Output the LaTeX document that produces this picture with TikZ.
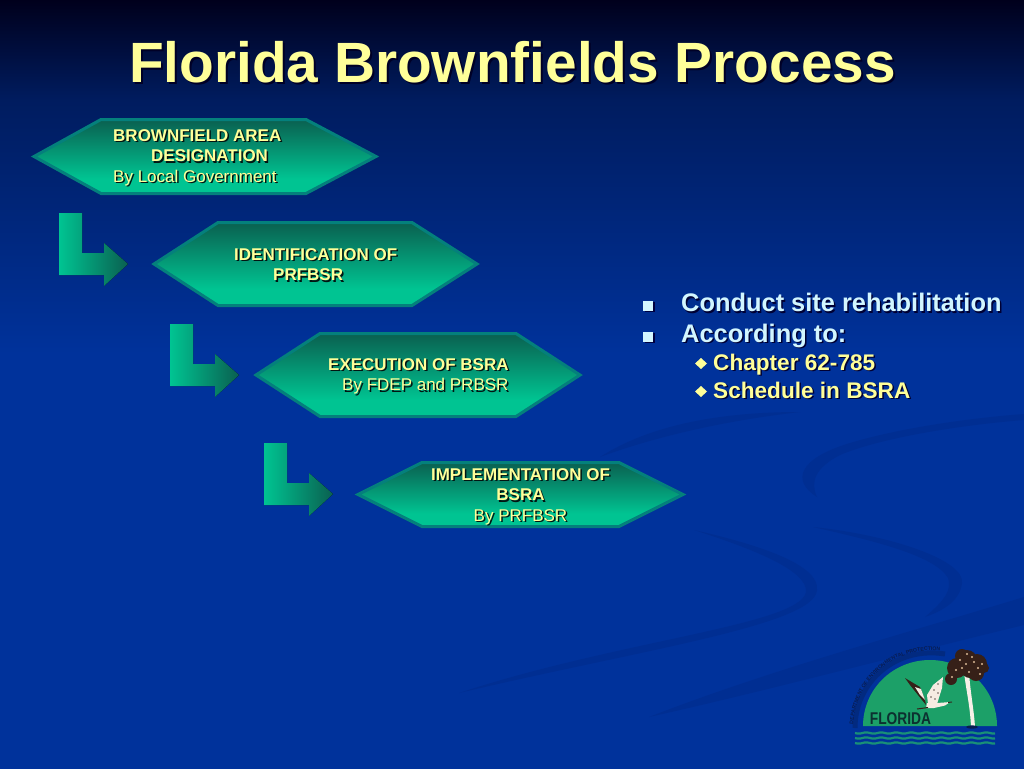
\documentclass[tikz,border=0pt]{standalone}
\usepackage{fontspec}
\setmainfont{Liberation Sans}
\usetikzlibrary{arrows.meta,calc,decorations.text,shapes.geometric}
\definecolor{bgtop}{RGB}{0,0,28}
\definecolor{bgmid}{RGB}{0,28,95}
\definecolor{bglow}{RGB}{0,50,155}
\definecolor{swoosh}{RGB}{0,46,146}
\definecolor{hexdark}{RGB}{10,96,80}
\definecolor{hexlight}{RGB}{0,196,146}
\definecolor{hexrim}{RGB}{4,128,124}
\definecolor{titleyellow}{RGB}{255,255,153}
\definecolor{bulletblue}{RGB}{210,246,255}
\definecolor{logogreen}{RGB}{28,160,104}
\definecolor{logobrown}{RGB}{54,32,24}
\definecolor{logonavy}{RGB}{8,28,80}
\definecolor{logodark}{RGB}{12,48,48}
\pgfdeclareverticalshading{slidebg}{100bp}{color(0bp)=(bglow);color(52bp)=(bglow);color(68.5bp)=(bgmid);color(75bp)=(bgtop);color(100bp)=(bgtop)}
\pgfdeclareverticalshading{hexshade}{100bp}{color(0bp)=(hexlight);color(35bp)=(hexlight);color(75bp)=(hexdark);color(100bp)=(hexdark)}
\newcommand{\slidetext}[5][1.5]{%
  \node[#2,text=#2shade] at ($(#4)+(#1,#1)$) {#5};
  \node[#2] (#3) at (#4) {#5};}
\colorlet{titletxtshade}{black!85!blue}
\colorlet{boxtxtshade}{black!78!hexdark}
\colorlet{boxmidtxtshade}{black!78!hexdark}
\colorlet{bulltxtshade}{black!80!blue}
\colorlet{subtxtshade}{black!80!blue}
\tikzset{
  titletxt/.style={anchor=base,text=titleyellow,font=\bfseries\fontsize{56.8}{60}\selectfont},
  boxtxt/.style={anchor=west,align=left,inner sep=0pt,text=titleyellow,font=\fontsize{17}{20.6}\selectfont},
  boxmidtxt/.style={align=center,inner sep=0pt,text=titleyellow,font=\fontsize{17}{20.6}\selectfont},
  bulltxt/.style={anchor=base west,inner sep=0pt,text=bulletblue,font=\bfseries\fontsize{25.4}{28}\selectfont},
  subtxt/.style={anchor=base west,inner sep=0pt,text=titleyellow,font=\bfseries\fontsize{22.6}{26}\selectfont},
  hexbox/.style={draw=hexrim,line width=3pt,line join=miter,shading=hexshade},
  elbow/.style={left color=hexlight,right color=hexdark},
  swooshfill/.style={fill=swoosh}
}
\begin{document}
\begin{tikzpicture}[x=1pt,y=-1pt]
  \useasboundingbox (0,0) rectangle (1024,768);
  \fill[shading=slidebg] (0,0) rectangle (1024,768);
  % background swooshes
  \fill[swooshfill] (600,457) .. controls (650,425) and (720,412) .. (800,412) .. controls (730,420) and (660,435) .. (600,457) -- cycle;
  \fill[swooshfill] (817,497) .. controls (790,480) and (800,458) .. (850,443) .. controls (900,428) and (970,418) .. (1024,414) -- (1024,420) .. controls (960,425) and (880,438) .. (840,455) .. controls (815,468) and (810,482) .. (817,497) -- cycle;
  \fill[swooshfill] (694,530) .. controls (760,545) and (820,565) .. (817,590) .. controls (815,625) and (640,650) .. (459,693) .. controls (620,640) and (800,625) .. (806,592) .. controls (808,570) and (750,548) .. (694,530) -- cycle;
  \fill[swooshfill] (813,527) .. controls (890,535) and (965,560) .. (962,583) .. controls (960,600) and (945,610) .. (925,617) .. controls (945,600) and (952,590) .. (948,578) .. controls (935,555) and (870,540) .. (813,527) -- cycle;
  \fill[swooshfill] (1024,597) -- (1024,625) .. controls (900,655) and (770,690) .. (649,717) .. controls (770,670) and (900,635) .. (1024,597) -- cycle;
  % title
  \slidetext[2]{titletxt}{title}{512.5,82}{Florida Brownfields Process}
  % elbow arrows
  \foreach \dx/\dy in {0/0,111/111,205/230}{
    \fill[elbow,shift={(\dx,\dy)}] (59,213) -- (82,213) -- (82,253) -- (104,253) -- (104,243) -- (128,264) -- (104,286) -- (104,275) -- (59,275) -- cycle;
  }
  % hexagons
  \path[hexbox] (34,156.5) -- (101,119.5) -- (306,119.5) -- (376,156.5) -- (306,193.5) -- (101,193.5) -- cycle;
  \path[hexbox] (154,264) -- (218,222.5) -- (412,222.5) -- (477,264) -- (412,305.5) -- (218,305.5) -- cycle;
  \path[hexbox] (256,375) -- (320,333.5) -- (516,333.5) -- (580,375) -- (516,416.5) -- (320,416.5) -- cycle;
  \path[hexbox] (358,494.5) -- (422,462.5) -- (619,462.5) -- (683,494.5) -- (619,526.5) -- (422,526.5) -- cycle;
  % box labels
  \slidetext{boxtxt}{areatxt}{113,157.5}{\textbf{BROWNFIELD AREA}\\\hspace*{38pt}\textbf{DESIGNATION}\\By Local Government}
  \slidetext{boxtxt}{identtxt}{234,264.5}{\textbf{IDENTIFICATION OF}\\\hspace*{39pt}\textbf{PRFBSR}}
  \slidetext{boxtxt}{exectxt}{328,376.5}{\textbf{EXECUTION OF BSRA}\\\hspace*{14pt}By FDEP and PRBSR}
  \slidetext{boxmidtxt}{impltxt}{520.5,496.5}{\textbf{IMPLEMENTATION OF}\\\textbf{BSRA}\\By PRFBSR}
  % bullets
  \foreach \yb in {305.5,336.5}{
    \fill[black!75!blue] (644.5,\yb-3.5) rectangle +(10,10);
    \fill[bulletblue] (643,\yb-5) rectangle +(10,10);
  }
  \slidetext{bulltxt}{conduct}{681,311.5}{Conduct site rehabilitation}
  \slidetext{bulltxt}{accord}{681,342}{According to:}
  \foreach \yb in {363.5,391.5}{
    \fill[titleyellow] (695,\yb) -- (701,\yb-5.5) -- (707,\yb) -- (701,\yb+5.5) -- cycle;
  }
  \slidetext{subtxt}{chapter}{713,370}{Chapter 62-785}
  \slidetext{subtxt}{schedule}{713,398}{Schedule in BSRA}
  % logo
  \fill[logogreen] (863,726) .. controls (863,689) and (893,660) .. (930,660) .. controls (967,660) and (997,689) .. (997,726) -- cycle;
  \draw[logonavy,opacity=.35,line width=5pt] (855,728) .. controls (855,681) and (897,646) .. (945,654);
  \path[decorate,decoration={text along path,text align=center,text={|\bfseries\fontsize{5.2}{6}\selectfont\color{logonavy}|DEPARTMENT OF ENVIRONMENTAL PROTECTION}}] (853,730) .. controls (853,680) and (896,643) .. (946,652);
  \node[anchor=base,inner sep=0pt,text=logodark,font=\bfseries\fontsize{17}{18}\selectfont,xscale=.81,transform shape] (logoname) at (900.5,724) {FLORIDA};
  \foreach \yw in {733,738,743}{
    \draw[logogreen!90!blue,line width=2.2pt] plot[domain=855:995,samples=90,smooth] (\x,{\yw+0.6*sin((\x-855)*24)});
  }
  \fill[white!88!brown] (964,672) -- (969,672) .. controls (970,690) and (974,710) .. (975,727) -- (971,727) .. controls (970,705) and (966,690) .. (964,672) -- cycle;
  \fill[logonavy] (972,727) ellipse (6pt and 1.6pt);
  \foreach \xt/\yt/\rt in {967/660/10,957/668/10,977/664/10,962/656/7,976/673/8,951/679/6,984/668/5,970/669/9}{
    \fill[logobrown] (\xt,\yt) circle (\rt pt);
  }
  \foreach \xt/\yt in {960/660,966/664,972/657,978/668,956/670,969/672,974/662,962/668,982/664,952/677,967/654,980/674}{
    \fill[brown!55!white] (\xt,\yt) circle (1.1pt);
  }
  % bird
  \fill[logobrown] (905,678) -- (920,687) -- (925,700) -- (926,705) -- (918,695) -- (910,685) -- cycle;
  \fill[white!85!brown] (915,687) -- (921,689) -- (925,700) -- (920,695) -- cycle;
  \fill[white!85!brown] (943,677) -- (933,685) -- (927,695) -- (928,704) -- (937,704) -- (942,688) -- cycle;
  \foreach \xt/\yt in {938/684,934/690,938/693,931/697,935/699}{
    \fill[logobrown!75!white] (\xt,\yt) circle (.8pt);
  }
  \fill[white!85!brown] (927,703) -- (937,703) -- (944,702.5) -- (950,702) -- (945,705.5) -- (934,708) -- (926,708) -- cycle;
  \draw[logobrown,line width=.9pt] (948,702.5) -- (952,702);
  \draw[logobrown,line width=1pt] (928,707.5) -- (917,709);
\end{tikzpicture}
\end{document}
